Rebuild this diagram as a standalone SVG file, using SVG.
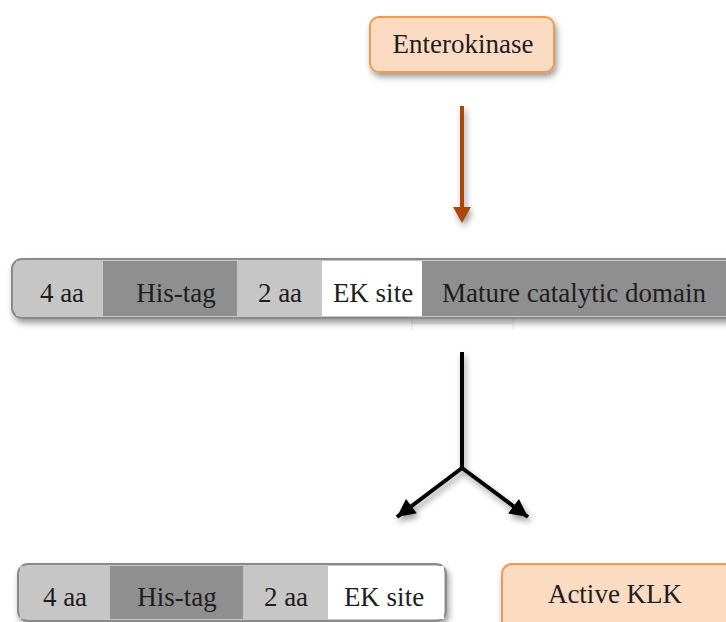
<svg xmlns="http://www.w3.org/2000/svg" width="726" height="622" viewBox="0 0 726 622">
  <style>
    .lbl { font-family: "Liberation Serif", "Times New Roman", serif; font-size: 27px; fill: #1e1e1e; text-anchor: middle; }
    .pill { fill: #fbdcc3; stroke: #ee9b4c; stroke-width: 2; }
    .frame { fill: #c6c6c6; stroke: #8a8a8a; stroke-width: 2; }
    .light { fill: #c6c6c6; }
    .dark { fill: #8f8f8f; }
    .white { fill: #ffffff; }
    .conn-brown { stroke: #a9470d; stroke-width: 4; fill: none; }
    .conn-black { stroke: #000000; stroke-width: 4; fill: none; }
  </style>
  <defs>
    <filter id="shadow" x="-10%" y="-20%" width="130%" height="160%">
      <feDropShadow dx="2" dy="4" stdDeviation="3" flood-color="#000" flood-opacity="0.4"/>
    </filter>
    <marker id="headBlack" viewBox="0 0 10 10" refX="10" refY="5" markerWidth="20" markerHeight="18" orient="auto" markerUnits="userSpaceOnUse">
      <path d="M0,0 L10,5 L0,10 Z" fill="#000"/>
    </marker>
  </defs>

  <rect width="726" height="622" fill="#ffffff"/>

  <!-- connectors -->
  <g id="connectors">
    <g filter="url(#shadow)">
      <line class="conn-brown" x1="462" y1="106" x2="462" y2="208"/>
      <path d="M453,207 L471,207 L462,223 Z" fill="#a9470d"/>
    </g>
    <g filter="url(#shadow)">
      <line class="conn-black" x1="462" y1="352" x2="462" y2="469"/>
      <path class="conn-black" d="M462,468 L397,517" marker-end="url(#headBlack)"/>
      <path class="conn-black" d="M462,468 L528,517" marker-end="url(#headBlack)"/>
    </g>
    <!-- faint guide under the cleavage site -->
    <path d="M412,318 V330 M513,318 V330 M412,323 H513" stroke="#e6e6e6" stroke-width="1" fill="none"/>
  </g>

  <!-- protease node -->
  <g id="enterokinase">
    <rect class="pill" x="370" y="17" width="184" height="55" rx="9" filter="url(#shadow)"/>
    <text class="lbl" x="463" y="53">Enterokinase</text>
  </g>

  <!-- full-length precursor construct -->
  <g id="precursor">
    <rect class="frame" x="12" y="259" width="730" height="59" rx="10" filter="url(#shadow)"/>
    <rect class="light" x="16" y="261" width="87" height="55"/>
    <rect class="dark" x="103" y="261" width="134" height="55"/>
    <rect class="light" x="237" y="261" width="85" height="55"/>
    <rect class="white" x="322" y="261" width="100" height="55"/>
    <rect class="dark" x="422" y="261" width="310" height="55"/>
    <text class="lbl" x="62" y="302">4 aa</text>
    <text class="lbl" x="176" y="302">His-tag</text>
    <text class="lbl" x="280" y="302">2 aa</text>
    <text class="lbl" x="373" y="302">EK site</text>
    <text class="lbl" x="574" y="302">Mature catalytic domain</text>
  </g>

  <!-- cleaved propeptide -->
  <g id="propeptide">
    <rect class="frame" x="18" y="564" width="428" height="57" rx="10" filter="url(#shadow)"/>
    <rect class="light" x="20" y="566" width="90" height="53"/>
    <rect class="dark" x="110" y="566" width="133" height="53"/>
    <rect class="light" x="243" y="566" width="85" height="53"/>
    <rect class="white" x="328" y="566" width="116" height="53"/>
    <text class="lbl" x="65" y="606">4 aa</text>
    <text class="lbl" x="177" y="606">His-tag</text>
    <text class="lbl" x="286" y="606">2 aa</text>
    <text class="lbl" x="384" y="606">EK site</text>
  </g>

  <!-- mature enzyme -->
  <g id="active-klk">
    <rect class="pill" x="502" y="564" width="240" height="70" rx="10" filter="url(#shadow)"/>
    <text class="lbl" x="615" y="603">Active KLK</text>
  </g>
</svg>
